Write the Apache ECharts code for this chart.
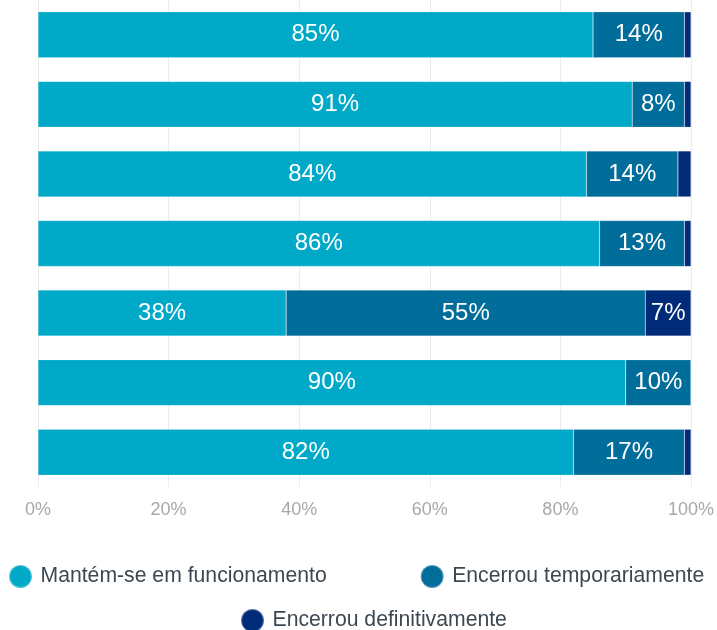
<!DOCTYPE html>
<html>
<head>
<meta charset="utf-8">
<script src="https://cdn.jsdelivr.net/npm/echarts@6/dist/echarts.min.js"></script>
<style>html,body{margin:0;padding:0;background:#fff}#c{width:717px;height:630px}</style>
</head>
<body>
<div id="c"></div>
<script>
var categories = ['1', '2', '3', '4', '5', '6', '7'];
var seriesNames = ['Mantém-se em funcionamento', 'Encerrou temporariamente', 'Encerrou definitivamente'];
var mantem = [85, 91, 84, 86, 38, 90, 82];
var temporario = [14, 8, 14, 13, 55, 10, 17];
var definitivo = [1, 1, 2, 1, 7, 0, 1];
var xTicks = [0, 20, 40, 60, 80, 100];
var colors = ['#00A9C7', '#006D9A', '#002B78'];

var FONT = 'Liberation Sans, Arial, sans-serif';
var chart = echarts.init(document.getElementById('c'), null, {renderer: 'canvas'});
function mk(name, data, color) {
  return {
    name: name, type: 'bar', stack: 'total', data: data,
    barCategoryGap: '34%',
    itemStyle: {color: color, borderColor: 'rgba(255,255,255,0.35)', borderWidth: 0.5},
    label: {
      show: true, position: 'inside', color: '#fff',
      fontFamily: FONT, fontSize: 24,
      formatter: function (p) { return p.value < 5 ? '' : p.value + '%'; }
    },
    emphasis: {disabled: true}
  };
}
var legendText = {color: '#3d4852', fontSize: 21.2, fontFamily: FONT, padding: [0, 0, 0, 3]};
chart.setOption({
  animation: false,
  color: colors,
  grid: {left: 38, right: 24, top: 0, bottom: 143, containLabel: false},
  xAxis: {
    type: 'value', min: 0, max: 100, interval: 20,
    axisLine: {show: false}, axisTick: {show: false},
    splitLine: {show: true, lineStyle: {color: '#ececec', width: 1}},
    axisLabel: {
      color: '#a8a8a8', fontSize: 18, margin: 14,
      fontFamily: FONT,
      formatter: function (v) { return xTicks.indexOf(v) >= 0 ? v + '%' : ''; }
    }
  },
  yAxis: {
    type: 'category', data: categories, inverse: true,
    axisLine: {show: false}, axisTick: {show: false}, axisLabel: {show: false},
    splitLine: {show: false}
  },
  legend: [
    {
      data: [seriesNames[0], seriesNames[1]], left: 3, top: 559,
      icon: 'circle', itemWidth: 24, itemHeight: 23, itemGap: 93,
      textStyle: legendText,
      selectedMode: false
    },
    {
      data: [seriesNames[2]], left: 235, top: 603,
      icon: 'circle', itemWidth: 24, itemHeight: 23,
      textStyle: legendText,
      selectedMode: false
    }
  ],
  series: [
    mk(seriesNames[0], mantem, colors[0]),
    mk(seriesNames[1], temporario, colors[1]),
    mk(seriesNames[2], definitivo, colors[2])
  ]
});
</script>
</body>
</html>
